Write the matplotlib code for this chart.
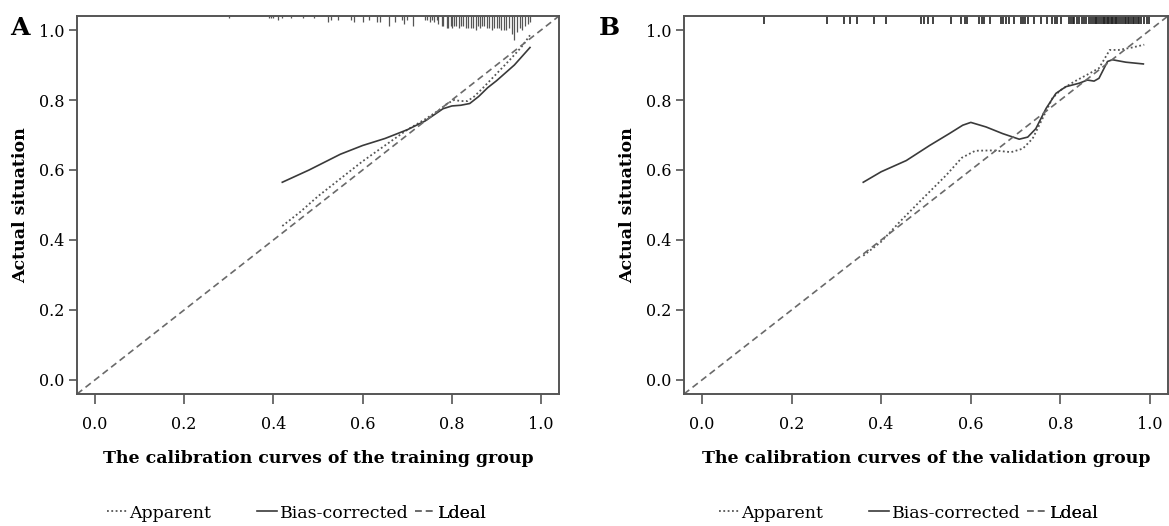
import numpy as np
import matplotlib
matplotlib.use("Agg")
import matplotlib.pyplot as plt

plt.rcParams['font.family'] = ['DejaVu Serif']

#### DATOS ####
# Grupo de entrenamiento
train_app_x = [0.42, 0.46, 0.50, 0.55, 0.60, 0.65, 0.70, 0.74, 0.77, 0.79, 0.805, 0.82, 0.835, 0.85, 0.87, 0.90, 0.93, 0.955, 0.975]
train_app_y = [0.44, 0.48, 0.525, 0.575, 0.625, 0.67, 0.715, 0.745, 0.77, 0.79, 0.80, 0.797, 0.797, 0.81, 0.835, 0.875, 0.915, 0.95, 0.985]
train_bc_x = [0.42, 0.48, 0.55, 0.60, 0.65, 0.70, 0.74, 0.78, 0.80, 0.82, 0.84, 0.86, 0.88, 0.90, 0.94, 0.975]
train_bc_y = [0.565, 0.60, 0.645, 0.67, 0.69, 0.715, 0.74, 0.775, 0.783, 0.785, 0.79, 0.81, 0.835, 0.855, 0.90, 0.95]

# Distribucion de probabilidades predichas (entrenamiento): posicion y frecuencia
train_rug_x = [0.30, 0.39, 0.395, 0.40, 0.41, 0.42, 0.44, 0.467, 0.49, 0.522, 0.53, 0.545, 0.575, 0.58,
               0.60, 0.614, 0.633, 0.64, 0.659, 0.673, 0.688, 0.693, 0.699, 0.713, 0.74, 0.745, 0.75,
               0.755, 0.76, 0.766, 0.77, 0.777, 0.781, 0.788, 0.792, 0.797, 0.80, 0.805, 0.81, 0.815,
               0.82, 0.826, 0.831, 0.837, 0.843, 0.848, 0.853, 0.858, 0.863, 0.868, 0.873, 0.878, 0.883,
               0.889, 0.895, 0.90, 0.906, 0.911, 0.916, 0.922, 0.928, 0.934, 0.94, 0.946, 0.952, 0.958,
               0.964, 0.97, 0.976]
train_rug_n = [1, 1, 1, 1, 2, 1, 1, 1, 1, 3, 2, 2, 2, 3,
               3, 2, 3, 3, 5, 3, 2, 4, 2, 5, 2, 2, 3,
               2, 3, 2, 4, 5, 5, 6, 6, 5, 6, 5, 5, 6,
               5, 5, 6, 6, 6, 6, 7, 5, 6, 5, 5, 6, 6,
               7, 6, 6, 6, 7, 7, 7, 6, 9, 12, 8, 6, 7,
               5, 4, 3]

# Grupo de validacion
valid_app_x = [0.36, 0.40, 0.44, 0.49, 0.545, 0.58, 0.61, 0.65, 0.69, 0.716, 0.738, 0.76, 0.782, 0.80, 0.83, 0.865, 0.886, 0.91, 0.93, 0.96, 0.987]
valid_app_y = [0.355, 0.395, 0.45, 0.515, 0.585, 0.635, 0.655, 0.656, 0.651, 0.661, 0.69, 0.747, 0.805, 0.828, 0.852, 0.876, 0.891, 0.943, 0.943, 0.95, 0.958]
valid_bc_x = [0.36, 0.40, 0.456, 0.508, 0.552, 0.582, 0.60, 0.634, 0.671, 0.708, 0.727, 0.745, 0.768, 0.79, 0.812, 0.842, 0.86, 0.875, 0.886, 0.905, 0.916, 0.946, 0.985]
valid_bc_y = [0.565, 0.595, 0.627, 0.67, 0.704, 0.728, 0.736, 0.723, 0.704, 0.688, 0.694, 0.718, 0.776, 0.819, 0.838, 0.848, 0.857, 0.854, 0.862, 0.91, 0.915, 0.908, 0.903]

valid_rug_x = [0.139, 0.279, 0.317, 0.330, 0.346, 0.385, 0.411, 0.489, 0.496, 0.505, 0.515, 0.556,
               0.578, 0.586, 0.591, 0.619, 0.625, 0.630, 0.642, 0.667, 0.671, 0.678, 0.686, 0.697,
               0.712, 0.717, 0.721, 0.727, 0.741, 0.756, 0.771, 0.782, 0.787, 0.793, 0.801, 0.820,
               0.823, 0.827, 0.831, 0.836, 0.842, 0.849, 0.853, 0.857, 0.864, 0.868, 0.872, 0.876,
               0.879, 0.882, 0.886, 0.890, 0.894, 0.897, 0.900, 0.903, 0.906, 0.909, 0.912, 0.915,
               0.918, 0.921, 0.924, 0.927, 0.931, 0.935, 0.939, 0.943, 0.946, 0.950, 0.954, 0.957,
               0.961, 0.965, 0.969, 0.972, 0.975, 0.979, 0.987, 0.994, 0.998]

ticks = [0.0, 0.2, 0.4, 0.6, 0.8, 1.0]
lim = (-0.04, 1.04)
gris_eje = '#555555'
W, H = 1169, 526

#### FIGURA ####
fig = plt.figure(figsize=(W / 100, H / 100), dpi=100)
ax_a = fig.add_axes([77/W, 132/H, 482/W, 378/H])
ax_b = fig.add_axes([684/W, 132/H, 484/W, 378/H])

paneles = [
    (ax_a, 'A', -0.139, train_app_x, train_app_y, train_bc_x, train_bc_y,
     'The calibration curves of the training group', [107, 257, 415]),
    (ax_b, 'B', -0.177, valid_app_x, valid_app_y, valid_bc_x, valid_bc_y,
     'The calibration curves of the validation group', [719, 869, 1027]),
]

for ax, letra, letra_x, ax_x, ax_y, bc_x, bc_y, xlab, leg_pos in paneles:
    l_app, = ax.plot(ax_x, ax_y, color='#555555', lw=1.3, ls=(0, (1, 1.4)), label='Apparent')
    l_bc, = ax.plot(bc_x, bc_y, color='#3a3a3a', lw=1.2, ls='-', label='Bias-corrected')
    l_id = ax.axline((0, 0), slope=1, color='#6a6a6a', lw=1.2, ls=(0, (4, 2.5)), label='Ldeal')

    ax.set_xlim(lim)
    ax.set_ylim(lim)
    ax.set_xticks(ticks)
    ax.set_yticks(ticks)
    ax.set_xticklabels([f'{t:.1f}' for t in ticks])
    ax.set_yticklabels([f'{t:.1f}' for t in ticks])
    ax.tick_params(axis='x', length=7, width=1.2, color=gris_eje, pad=9, labelsize=11.5)
    ax.tick_params(axis='y', length=6, width=1.2, color=gris_eje, pad=3, labelsize=11.5)
    for s in ax.spines.values():
        s.set_color(gris_eje)
        s.set_linewidth(1.4)

    ax.set_xlabel(xlab, fontsize=12.5, fontweight='bold', labelpad=12)
    ax.set_ylabel('Actual situation', fontsize=12.5, fontweight='bold', labelpad=7)
    ax.text(letra_x, 1.0, letra, transform=ax.transAxes,
            fontsize=18, fontweight='bold', va='top', ha='left')

    # Leyenda: cada entrada en su propia columna de ancho fijo
    for h, x0 in zip([l_app, l_bc, l_id], leg_pos):
        lg = ax.legend(handles=[h], loc='center left', frameon=False,
                       bbox_to_anchor=(x0 / W, 1 - 513 / H), bbox_transform=fig.transFigure,
                       fontsize=12.5, handlelength=1.15, handletextpad=0.15, borderpad=0,
                       borderaxespad=0)
        ax.add_artist(lg)

# Histograma de predicciones en el borde superior
unidad = 2 / 348
ax_a.vlines(train_rug_x, lim[1] - np.array(train_rug_n) * unidad, lim[1], color='#555555', lw=0.9)
ax_b.vlines(valid_rug_x, lim[1] - 8 / 348, lim[1], color='#222222', lw=1.2)

plt.savefig('out.png', dpi=100)
